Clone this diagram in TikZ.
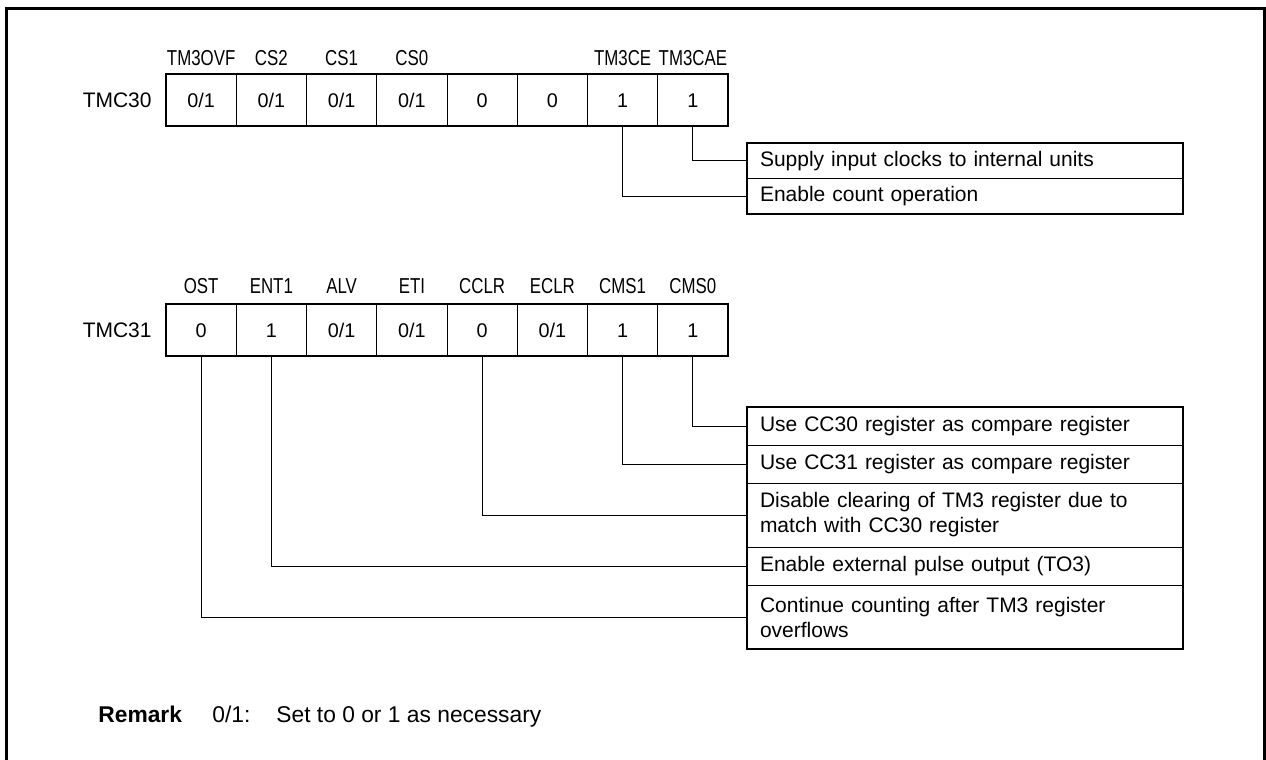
\documentclass[tikz,border=0pt]{standalone}
\usepackage{fontspec}
\setmainfont{Liberation Sans}
\newfontfamily\narrowsans{Liberation Sans}[FakeStretch=0.78]
\usetikzlibrary{positioning}

\begin{document}
\begin{tikzpicture}[x=0.5pt,y=-0.5pt,
node distance=0pt,
every node/.style={font=\fontsize{10.5}{12.5}\selectfont},
cell/.style={draw,line width=0.5pt,minimum width=35.125pt,minimum height=26pt,inner sep=0pt,outer sep=0pt,text height=7.1pt,text depth=0pt,font=\fontsize{9.9}{11}\selectfont},
bitname/.style={inner sep=0pt,font=\narrowsans\fontsize{10.8}{11}\selectfont},
regname/.style={inner sep=0pt},
desc/.style={draw,line width=0.5pt,text width=205pt,inner xsep=6.5pt,inner ysep=0pt,align=left,minimum height=19pt,outer sep=0pt},
desc2/.style={desc,minimum height=32pt},
remarkfont/.style={inner sep=0pt,anchor=base west,font=\fontsize{11.4}{13}\selectfont},
link/.style={line width=0.5pt}]
\useasboundingbox (0,0) rectangle (1266,760);
\draw[line width=1.5pt] (6,760) -- (6,8) -- (1264,8) -- (1264,760);
% TMC30
\node[cell,anchor=north west] (ovf) at (166,74) {0/1};
\node[cell,right=of ovf] (cs2) {0/1};
\node[cell,right=of cs2] (cs1) {0/1};
\node[cell,right=of cs1] (cs0) {0/1};
\node[cell,right=of cs0] (zb) {0};
\node[cell,right=of zb] (za) {0};
\node[cell,right=of za] (ce) {1};
\node[cell,right=of ce] (cae) {1};
\draw[line width=1pt] (ovf.north west) rectangle (cae.south east);
\node[regname,left=7pt of ovf] (tmc30) {TMC30};
\node[bitname,above=4pt of ovf] (ovf-l) {TM3OVF};
\node[bitname,above=4pt of cs2] (cs2-l) {CS2};
\node[bitname,above=4pt of cs1] (cs1-l) {CS1};
\node[bitname,above=4pt of cs0] (cs0-l) {CS0};
\node[bitname,above=4pt of ce] (ce-l) {TM3CE};
\node[bitname,above=4pt of cae] (cae-l) {TM3CAE};
% TMC31
\node[cell,anchor=north west] (ost) at (166,304) {0};
\node[cell,right=of ost] (ent) {1};
\node[cell,right=of ent] (alv) {0/1};
\node[cell,right=of alv] (eti) {0/1};
\node[cell,right=of eti] (cclr) {0};
\node[cell,right=of cclr] (eclr) {0/1};
\node[cell,right=of eclr] (cms1) {1};
\node[cell,right=of cms1] (cms0) {1};
\draw[line width=1pt] (ost.north west) rectangle (cms0.south east);
\node[regname,left=7pt of ost] (tmc31) {TMC31};
\node[bitname,above=5pt of ost] (ost-l) {OST};
\node[bitname,above=5pt of ent] (ent-l) {ENT1};
\node[bitname,above=5pt of alv] (alv-l) {ALV};
\node[bitname,above=5pt of eti] (eti-l) {ETI};
\node[bitname,above=5pt of cclr] (cclr-l) {CCLR};
\node[bitname,above=5pt of eclr] (eclr-l) {ECLR};
\node[bitname,above=5pt of cms1] (cms1-l) {CMS1};
\node[bitname,above=5pt of cms0] (cms0-l) {CMS0};
% settings of TMC30
\node[desc,anchor=north west,minimum height=17.75pt] (clk) at (747,143) {Supply input clocks to internal units};
\node[desc,below=of clk,minimum height=17.75pt] (cnt) {Enable count operation};
\draw[line width=1pt] (clk.north west) rectangle (cnt.south east);
\draw[link] (cae.south) |- (clk.west);
\draw[link] (ce.south) |- (cnt.west);
% settings of TMC31
\node[desc,anchor=north west] (cmp0) at (747,407) {Use CC30 register as compare register};
\node[desc,below=of cmp0] (cmp1) {Use CC31 register as compare register};
\node[desc2,below=of cmp1] (noclr) {Disable clearing of TM3 register due to\\match with CC30 register};
\node[desc,below=of noclr] (pulse) {Enable external pulse output (TO3)};
\node[desc2,below=of pulse] (cont) {Continue counting after TM3 register\\overflows};
\draw[line width=1pt] (cmp0.north west) rectangle (cont.south east);
\draw[link] (cms0.south) |- (cmp0.west);
\draw[link] (cms1.south) |- (cmp1.west);
\draw[link] (cclr.south) |- (noclr.west);
\draw[link] (ent.south) |- (pulse.west);
\draw[link] (ost.south) |- (cont.west);
% remark
\node[remarkfont,font=\fontsize{11.4}{13}\selectfont\bfseries] (remark) at (98,722) {Remark};
\node[remarkfont] (note) at (212,722) {0/1:};
\node[remarkfont] (notetext) at (276,722) {Set to 0 or 1 as necessary};
\end{tikzpicture}
\end{document}
